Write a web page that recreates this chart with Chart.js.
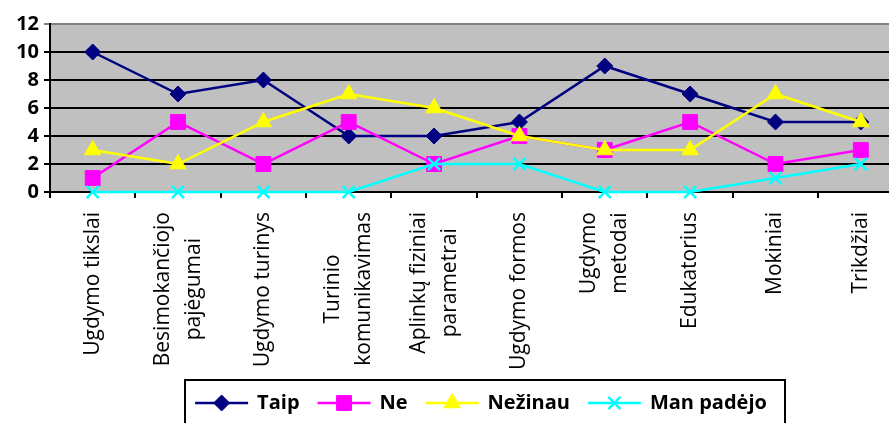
<!DOCTYPE html>
<html>
<head>
<meta charset="utf-8">
<script src="https://cdn.jsdelivr.net/npm/chart.js@4/dist/chart.umd.min.js"></script>
<style>
  html, body { margin: 0; padding: 0; background: #fff; overflow: hidden; }
  canvas { display: block; }
</style>
</head>
<body>
<canvas id="chart" width="915" height="423"></canvas>
<script>
// categories (multi-line labels as arrays)
const categories = [
  'Ugdymo tikslai',
  ['Besimokančiojo', 'pajėgumai'],
  'Ugdymo turinys',
  ['Turinio', 'komunikavimas'],
  ['Aplinkų fiziniai', 'parametrai'],
  'Ugdymo formos',
  ['Ugdymo', 'metodai'],
  'Edukatorius',
  'Mokiniai',
  'Trikdžiai'
];
const seriesNames = ['Taip', 'Ne', 'Nežinau', 'Man padėjo'];
const taip = [10, 7, 8, 4, 4, 5, 9, 7, 5, 5];
const ne = [1, 5, 2, 5, 2, 4, 3, 5, 2, 3];
const nezinau = [3, 2, 5, 7, 6, 4, 3, 3, 7, 5];
const manPadejo = [0, 0, 0, 0, 2, 2, 0, 0, 1, 2];
const yTicks = [0, 2, 4, 6, 8, 10, 12];

const colors = ['#000080', '#FF00FF', '#FFFF00', '#00FFFF'];
const styles = ['rectRot', 'rect', 'triangle', 'crossRot'];
const radii = [8, 10.5, 9.5, 8.5];
const values = [taip, ne, nezinau, manPadejo];

// grey plot background
const plotBg = {
  id: 'plotBg',
  beforeDraw(chart) {
    const { ctx, chartArea: a } = chart;
    ctx.save();
    ctx.fillStyle = '#C0C0C0';
    ctx.fillRect(a.left, a.top, a.right - a.left, a.bottom - a.top);
    ctx.restore();
  }
};

// vertical category labels, lines centred on the tick like the original
const xLabels = {
  id: 'xLabels',
  afterDraw(chart) {
    const ctx = chart.ctx;
    const scale = chart.scales.x;
    const lineH = 31;
    ctx.save();
    ctx.font = '21px "Open Sans", sans-serif';
    ctx.fillStyle = '#000';
    ctx.textAlign = 'center';
    ctx.textBaseline = 'middle';
    categories.forEach((lab, i) => {
      const lines = Array.isArray(lab) ? lab : [lab];
      const maxW = Math.max(...lines.map(l => ctx.measureText(l).width));
      const x = scale.getPixelForTick(i);
      const y0 = scale.top + 20;
      ctx.save();
      ctx.translate(x, y0 + maxW / 2);
      ctx.rotate(-Math.PI / 2);
      lines.forEach((l, j) => ctx.fillText(l, 0, (j - (lines.length - 1) / 2) * lineH));
      ctx.restore();
    });
    ctx.restore();
  }
};

// boxed legend with line + marker samples
const boxLegend = {
  id: 'boxLegend',
  afterDraw(chart) {
    const ctx = chart.ctx;
    ctx.save();
    ctx.font = 'bold 20px "Open Sans", sans-serif';
    const lineW = 53, gap = 9, itemGap = 18;
    const widths = seriesNames.map(n => lineW + gap + ctx.measureText(n).width);
    const total = widths.reduce((s, w) => s + w, 0) + itemGap * (seriesNames.length - 1);
    const boxL = 185, boxR = 785, boxT = 380, cy = 403;
    ctx.fillStyle = '#fff';
    ctx.fillRect(boxL, boxT, boxR - boxL, 60);
    ctx.strokeStyle = '#000';
    ctx.lineWidth = 2;
    ctx.strokeRect(boxL, boxT, boxR - boxL, 60);
    let x = 481 - total / 2;
    chart.data.datasets.forEach((ds, i) => {
      ctx.strokeStyle = ds.borderColor;
      ctx.lineWidth = 2.5;
      ctx.beginPath();
      ctx.moveTo(x, cy);
      ctx.lineTo(x + lineW, cy);
      ctx.stroke();
      ctx.fillStyle = ds.borderColor;
      ctx.lineWidth = ds.pointBorderWidth;
      Chart.helpers.drawPoint(ctx, {
        pointStyle: ds.pointStyle, radius: ds.pointRadius, borderWidth: ds.pointBorderWidth
      }, x + lineW / 2, cy);
      ctx.fillStyle = '#000';
      ctx.textBaseline = 'middle';
      ctx.textAlign = 'left';
      ctx.fillText(ds.label, x + lineW + gap, cy);
      x += widths[i] + itemGap;
    });
    ctx.restore();
  }
};

new Chart(document.getElementById('chart'), {
  type: 'line',
  data: {
    labels: categories,
    datasets: seriesNames.map((name, i) => ({
      label: name,
      data: values[i],
      borderColor: colors[i],
      backgroundColor: colors[i],
      borderWidth: 2.5,
      pointStyle: styles[i],
      pointRadius: radii[i],
      pointBorderWidth: styles[i] === 'crossRot' ? 2.5 : 1,
      pointBorderColor: colors[i],
      pointBackgroundColor: colors[i],
      tension: 0,
      clip: false,
      order: 3 - i
    }))
  },
  options: {
    responsive: false,
    animation: false,
    layout: { padding: { top: 24, left: 0, right: 0, bottom: 0 } },
    plugins: { legend: { display: false }, tooltip: { enabled: false } },
    scales: {
      x: {
        offset: true,
        grid: { display: true, drawOnChartArea: false, drawTicks: true, tickLength: 6, color: '#000', lineWidth: 2, offset: true },
        border: { display: true, color: '#000', width: 2 },
        ticks: {
          maxRotation: 90, minRotation: 90, autoSkip: false, padding: 17,
          color: 'rgba(0,0,0,0)', font: { family: '"Open Sans", sans-serif', size: 21, lineHeight: 1.45 }
        },
        afterFit(scale) { scale.height = 231; }
      },
      y: {
        min: 0, max: 12,
        afterBuildTicks(scale) { scale.ticks = yTicks.map(v => ({ value: v })); },
        grid: {
          color: ctx => ctx.tick && ctx.tick.value === 12 ? '#808080' : '#000',
          lineWidth: 2, tickLength: 6, drawTicks: true
        },
        border: { display: true, color: '#000', width: 2 },
        ticks: {
          padding: 5, color: '#000',
          font: { family: '"Open Sans", sans-serif', size: 20, weight: 'bold' }
        },
        afterFit(scale) { scale.width = 50; }
      }
    }
  },
  plugins: [plotBg, xLabels, boxLegend]
});
</script>
</body>
</html>
